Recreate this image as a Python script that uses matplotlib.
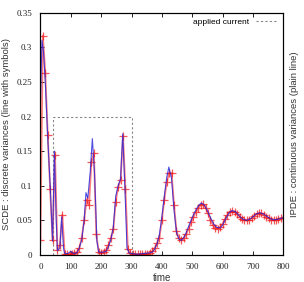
import matplotlib
matplotlib.use("Agg")
import matplotlib.pyplot as plt

# SCDE : discrete variances (sampled, drawn with symbols)
scde_t = [0, 8, 16, 24, 32, 40, 48, 56, 64, 72, 80, 88, 96, 104, 112, 120,
          128, 136, 144, 152, 160, 168, 176, 184, 192, 200, 208, 216, 224,
          232, 240, 248, 256, 264, 272, 280, 288, 296, 304, 312, 320, 328,
          336, 344, 352, 360, 368, 376, 384, 392, 400, 408, 416, 424, 432,
          440, 448, 456, 464, 472, 480, 488, 496, 504, 512, 520, 528, 536,
          544, 552, 560, 568, 576, 584, 592, 600, 608, 616, 624, 632, 640,
          648, 656, 664, 672, 680, 688, 696, 704, 712, 720, 728, 736, 744,
          752, 760, 768, 776, 784, 792, 800]
scde_v = [0.022, 0.317, 0.263, 0.174, 0.095, 0.021, 0.145, 0.007, 0.014,
          0.058, 0.002, 0.001, 0.002, 0.002, 0.003, 0.004, 0.010, 0.025,
          0.050, 0.080, 0.072, 0.134, 0.147, 0.030, 0.004, 0.003, 0.004,
          0.007, 0.014, 0.025, 0.037, 0.077, 0.098, 0.108, 0.172, 0.095,
          0.008, 0.003, 0.001, 0.001, 0.001, 0.001, 0.002, 0.002, 0.002,
          0.003, 0.005, 0.010, 0.017, 0.025, 0.050, 0.080, 0.105, 0.119,
          0.118, 0.072, 0.035, 0.024, 0.021, 0.024, 0.030, 0.038, 0.047,
          0.055, 0.062, 0.068, 0.072, 0.073, 0.068, 0.060, 0.050, 0.043,
          0.039, 0.038, 0.040, 0.045, 0.052, 0.058, 0.062, 0.063, 0.062,
          0.059, 0.055, 0.052, 0.050, 0.050, 0.051, 0.053, 0.056, 0.059,
          0.060, 0.060, 0.058, 0.055, 0.053, 0.051, 0.050, 0.051, 0.052,
          0.053, 0.054]

# IPDE : continuous variances (plain line)
ipde_t = [0, 5, 10, 16, 24, 32, 40, 46, 52, 56, 64, 70, 76, 80, 90, 100,
          110, 120, 128, 136, 144, 150, 156, 164, 171, 178, 186, 192, 200,
          208, 216, 224, 232, 240, 248, 256, 264, 271, 278, 285, 292, 300,
          320, 340, 360, 368, 376, 384, 392, 400, 408, 416, 423, 432, 440,
          448, 456, 464, 472, 480, 488, 496, 504, 512, 520, 530, 540, 550,
          560, 570, 580, 592, 600, 610, 620, 630, 640, 650, 660, 670, 680,
          690, 700, 710, 722, 735, 745, 755, 765, 775, 785, 800]
ipde_v = [0.22, 0.31, 0.295, 0.25, 0.17, 0.10, 0.02, 0.15, 0.05, 0.006,
          0.010, 0.055, 0.010, 0.002, 0.002, 0.005, 0.002, 0.003, 0.010,
          0.022, 0.050, 0.090, 0.082, 0.120, 0.168, 0.120, 0.020, 0.004,
          0.004, 0.004, 0.005, 0.012, 0.022, 0.040, 0.085, 0.100, 0.110,
          0.175, 0.100, 0.010, 0.003, 0.002, 0.001, 0.002, 0.003, 0.004,
          0.008, 0.016, 0.030, 0.055, 0.085, 0.112, 0.127, 0.110, 0.065,
          0.033, 0.023, 0.021, 0.025, 0.032, 0.041, 0.050, 0.058, 0.065,
          0.071, 0.075, 0.072, 0.064, 0.054, 0.045, 0.040, 0.039, 0.043,
          0.052, 0.060, 0.064, 0.063, 0.059, 0.054, 0.051, 0.050, 0.052,
          0.055, 0.059, 0.061, 0.059, 0.056, 0.053, 0.051, 0.051, 0.052,
          0.054]

# applied current (pulse), same scale
current_t = [40, 40, 300, 300]
current_v = [0, 0.2, 0.2, 0]

xticks = [0, 100, 200, 300, 400, 500, 600, 700, 800]
yticks = [0, 0.05, 0.1, 0.15, 0.2, 0.25, 0.3, 0.35]
ytick_labels = ["0", "0.05", "0.1", "0.15", "0.2", "0.25", "0.3", "0.35"]

fig = plt.figure(figsize=(3.04, 2.82), dpi=100)
ax = fig.add_axes([0.133, 0.096, 0.799, 0.859])

ax.plot(current_t, current_v, color="#888888", lw=0.8, ls=(0, (2, 2)),
        label="applied current")
ax.plot(scde_t, scde_v, color="#ff4a4a", lw=1.3, alpha=0.7,
        marker="+", ms=5.5, mew=0.9, mec="#ee1010")
ax.plot(ipde_t, ipde_v, color="#2222dd", lw=0.8, alpha=0.8)

ax.set_xlim(0, 800)
ax.set_ylim(0, 0.35)
ax.set_xticks(xticks)
ax.set_yticks(yticks)
ax.set_yticklabels(ytick_labels)
ax.tick_params(direction="in", length=3, width=0.7, top=True, right=True,
               labelsize=6.5, colors="#222222", pad=6)
for lbl in ax.get_xticklabels() + ax.get_yticklabels():
    lbl.set_family("Liberation Serif")
for s in ax.spines.values():
    s.set_linewidth(0.8)
    s.set_color("#111111")

ax.set_xlabel("time", family="Liberation Sans", fontsize=7, labelpad=1.5,
              color="#333333")
ax.set_ylabel("SCDE : discrete variances (line with symbols)",
              family="Liberation Sans", fontsize=6.8, labelpad=4,
              color="#333333")
ax2 = ax.twinx()
ax2.set_ylim(0, 0.35)
ax2.set_yticks([])
ax2.set_ylabel("IPDE : continuous variances (plain line)",
               family="Liberation Sans", fontsize=6.8, labelpad=5,
               color="#333333")

leg = ax.legend(loc="upper right", frameon=False,
                handlelength=2.6, markerfirst=False,
                prop={"family": "Liberation Sans", "size": 6},
                borderaxespad=0.3)

fig.savefig("out.png", dpi=100)
